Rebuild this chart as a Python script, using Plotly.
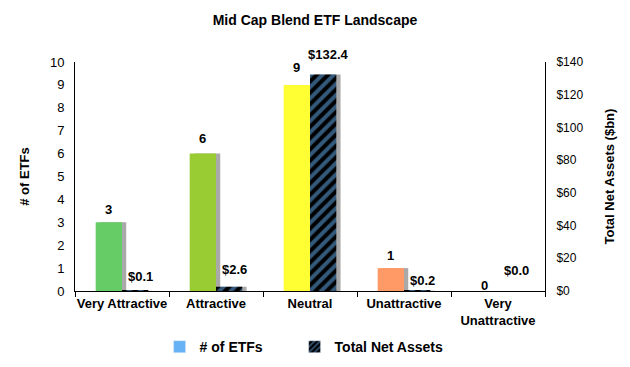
import plotly.graph_objects as go

categories = ["Very Attractive", "Attractive", "Neutral", "Unattractive", "Very<br>Unattractive"]
num_etfs = [3, 6, 9, 1, 0]
net_assets = [0.1, 2.6, 132.4, 0.2, 0.0]
bar_colors = ["#66CC66", "#99CC33", "#FFFF33", "#FF9966", "#BFBFBF"]

# label vertical offsets (px above bar top)
count_label_shift = [13, 15, 17, 13, 6]
asset_label_shift = [14, 17, 20, 10, 21]

FONT = "Liberation Sans, Arial, sans-serif"
W = 0.28
SH = 0.045
shadow = "rgba(140,140,140,0.75)"
BLUE = "#66B2F5"

fig = go.Figure()

# shadows
fig.add_trace(go.Bar(x=categories, y=num_etfs, offset=-W + SH, width=W, marker=dict(color=shadow, line=dict(width=0)),
                     showlegend=False, hoverinfo="skip", yaxis="y"))
fig.add_trace(go.Bar(x=categories, y=net_assets, offset=SH, width=W, marker=dict(color=shadow, line=dict(width=0)),
                     showlegend=False, hoverinfo="skip", yaxis="y2"))

# main bars
fig.add_trace(go.Bar(x=categories, y=num_etfs, offset=-W, width=W, name="# of ETFs",
                     marker=dict(color=bar_colors, line=dict(width=0)),
                     showlegend=False, yaxis="y"))
fig.add_trace(go.Bar(x=categories, y=net_assets, offset=0, width=W, name="Total Net Assets",
                     marker=dict(color="black", line=dict(width=0),
                                 pattern=dict(shape="/", fgcolor=BLUE, bgcolor="black", size=8, solidity=0.5)),
                     showlegend=False, yaxis="y2"))

# legend entries
fig.add_trace(go.Bar(x=[None], y=[None], name="<b># of ETFs</b>", marker=dict(color=BLUE),
                     showlegend=True, legend="legend"))
fig.add_trace(go.Bar(x=[None], y=[None], name="<b>Total Net Assets</b>",
                     marker=dict(color="black", pattern=dict(shape="/", fgcolor=BLUE, bgcolor="black", size=5, solidity=0.4)),
                     showlegend=True, legend="legend2"))

annotations = []
for i, (c, a) in enumerate(zip(num_etfs, net_assets)):
    annotations.append(dict(x=i - W / 2, y=c, xref="x", yref="y", text="<b>%d</b>" % c, showarrow=False,
                            yanchor="middle", yshift=count_label_shift[i],
                            font=dict(family=FONT, size=13, color="black")))
    annotations.append(dict(x=i + W / 2, y=a, xref="x", yref="y2", text="<b>$%.1f</b>" % a, showarrow=False,
                            yanchor="middle", yshift=asset_label_shift[i], xshift=5,
                            font=dict(family=FONT, size=13, color="black")))

legend_style = dict(orientation="h", xanchor="left", y=-0.245, yanchor="middle",
                    font=dict(family=FONT, size=14, color="black"), itemwidth=30, bgcolor="rgba(0,0,0,0)")

fig.update_layout(
    width=630, height=367,
    margin=dict(l=67, r=93, t=54, b=81),
    paper_bgcolor="white", plot_bgcolor="white",
    barmode="overlay",
    font=dict(family=FONT, size=12, color="black"),
    annotations=annotations,
    title=dict(text="<b>Mid Cap Blend ETF Landscape</b>", x=(315 - 8) / 630, xanchor="center",
               y=1 - 12 / 367, yanchor="middle",
               font=dict(family=FONT, size=14, color="black")),
    xaxis=dict(type="category", automargin=False, showline=True, linecolor="black", linewidth=1, ticks="outside",
               tickson="boundaries", ticklen=5, tickcolor="black", tickangle=0,
               tickfont=dict(family=FONT, size=13, color="black"),
               showgrid=False, zeroline=False, range=[-0.5, 4.5], tickprefix="<b>", ticksuffix="</b>"),
    yaxis=dict(range=[0, 10], dtick=1, automargin=False, showline=True, linecolor="black", linewidth=1, ticks="",
               ticklabelstandoff=7,
               showgrid=False, zeroline=False, tickfont=dict(family=FONT, size=13, color="black"),
               title=dict(text="<b># of ETFs</b>", font=dict(family=FONT, size=13, color="black"), standoff=17)),
    yaxis2=dict(range=[0, 140], dtick=20, tickprefix="$", overlaying="y", side="right", automargin=False,
                showline=True, linecolor="black", linewidth=1, ticks="", ticklabelstandoff=8,
                showgrid=False, zeroline=False,
                tickfont=dict(family=FONT, size=12, color="black"),
                title=dict(text="<b>Total Net Assets ($bn)</b>", font=dict(family=FONT, size=13, color="black"),
                           standoff=22)),
    legend=dict(x=0.18, **legend_style),
    legend2=dict(x=0.18 + 135 / 470, **legend_style),
    showlegend=True,
)

fig.write_html("out.html")
